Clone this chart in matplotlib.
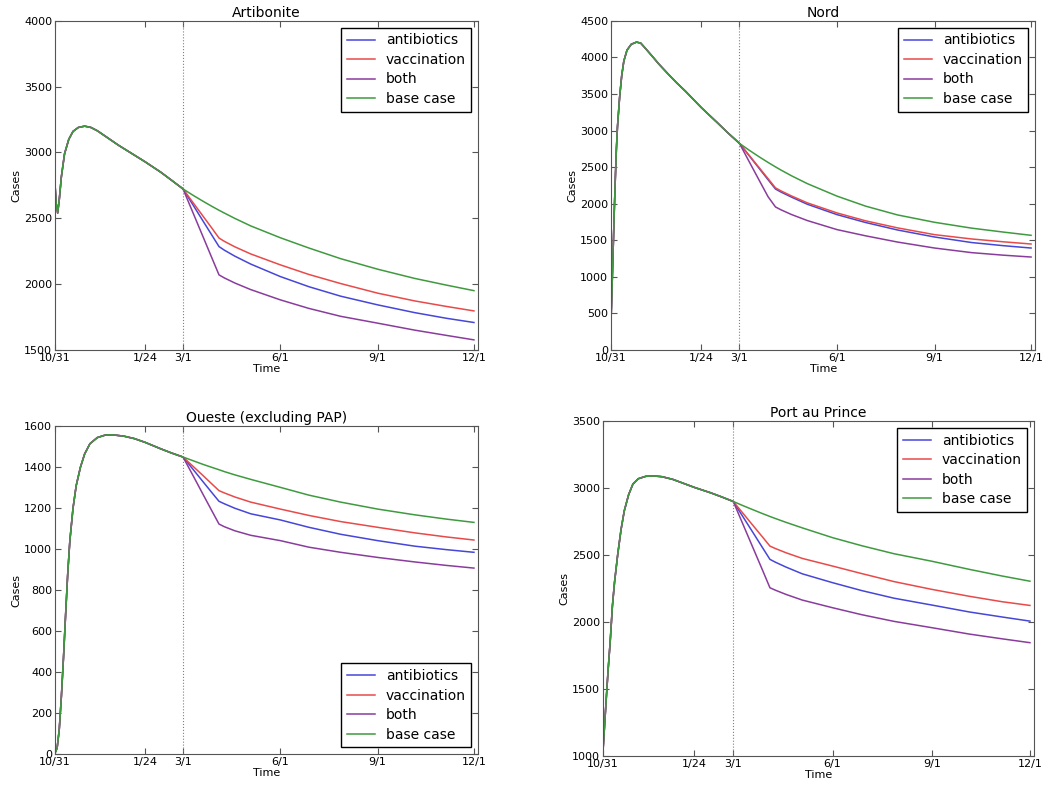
import matplotlib
matplotlib.use("Agg")
import matplotlib.pyplot as plt

# =====================================
# Data (days since 10/31, cases)
# =====================================

tick_days = [0, 85, 121, 213, 305, 396]
tick_labels = ["10/31", "1/24", "3/1", "6/1", "9/1", "12/1"]
intervention_day = 121

scenarios = ["antibiotics", "vaccination", "both", "base case"]

post_days = [121, 130, 140, 148, 155, 160, 170, 185, 213, 240, 270, 305, 340, 370, 396]

# Artibonite
artibonite_pre_days = [0, 1, 2.5, 4, 6, 9, 13, 17, 22, 28, 34, 40, 50, 60, 71, 85, 100, 110, 121]
artibonite_pre = [2760, 2620, 2540, 2640, 2815, 2990, 3100, 3160, 3190, 3200, 3190, 3165,
                  3110, 3055, 3000, 2930, 2850, 2790, 2723]
artibonite_antibiotics = [2723, 2607, 2478, 2375, 2285, 2258, 2212, 2152, 2057, 1980, 1908, 1842, 1783, 1740, 1708]
artibonite_vaccination = [2723, 2624, 2515, 2428, 2350, 2325, 2283, 2229, 2146, 2073, 2004, 1931, 1872, 1830, 1796]
artibonite_both = [2723, 2550, 2358, 2204, 2070, 2047, 2008, 1958, 1880, 1815, 1755, 1703, 1650, 1610, 1576]
artibonite_base = [2723, 2677, 2629, 2592, 2561, 2540, 2499, 2442, 2352, 2274, 2193, 2113, 2043, 1992, 1950]

# Nord
nord_pre_days = [0, 1, 2, 3, 4, 5, 6, 8, 10, 12, 15, 19, 24, 28, 32, 38, 45, 54, 62, 70, 85, 100, 110, 121]
nord_pre = [420, 900, 1400, 1900, 2350, 2750, 3050, 3450, 3750, 3950, 4100, 4180, 4210, 4195,
            4130, 4030, 3910, 3770, 3650, 3540, 3315, 3110, 2970, 2825]
nord_antibiotics = [2825, 2659, 2475, 2328, 2200, 2160, 2090, 1992, 1850, 1742, 1640, 1544, 1468, 1425, 1393]
nord_vaccination = [2825, 2664, 2485, 2342, 2216, 2176, 2106, 2011, 1873, 1765, 1669, 1576, 1517, 1478, 1448]
nord_both = [2825, 2580, 2310, 2095, 1955, 1917, 1852, 1769, 1645, 1560, 1475, 1393, 1330, 1295, 1270]
nord_base = [2825, 2733, 2637, 2564, 2503, 2461, 2382, 2274, 2103, 1966, 1846, 1745, 1665, 1611, 1567]

# Oueste (excluding PAP)
ouest_pre_days = [0, 2, 4, 6, 8, 10, 12, 14, 17, 20, 24, 28, 33, 40, 48, 55, 65, 75, 85, 100, 110, 121]
ouest_pre = [5, 30, 120, 280, 470, 680, 880, 1040, 1200, 1310, 1400, 1465, 1515, 1545, 1558,
             1558, 1552, 1540, 1522, 1490, 1470, 1450]
ouest_antibiotics = [1450, 1393, 1329, 1278, 1234, 1222, 1200, 1173, 1143, 1107, 1073, 1042, 1015, 998, 985]
ouest_vaccination = [1450, 1407, 1359, 1320, 1286, 1275, 1255, 1230, 1196, 1165, 1135, 1107, 1080, 1060, 1045]
ouest_both = [1450, 1364, 1267, 1190, 1123, 1110, 1090, 1068, 1042, 1010, 985, 960, 938, 921, 908]
ouest_base = [1450, 1433, 1414, 1400, 1388, 1379, 1363, 1341, 1302, 1264, 1230, 1196, 1168, 1147, 1131]

# Port au Prince
pap_pre_days = [0, 1, 2, 3, 5, 7, 9, 11, 14, 17, 20, 24, 28, 33, 40, 48, 55, 65, 75, 85, 100, 110, 121]
pap_pre = [1000, 1130, 1260, 1390, 1640, 1860, 2120, 2300, 2510, 2690, 2830, 2950, 3030, 3070,
           3088, 3090, 3085, 3065, 3035, 3005, 2965, 2935, 2900]
pap_antibiotics = [2900, 2786, 2659, 2557, 2468, 2447, 2410, 2360, 2294, 2235, 2178, 2127, 2075, 2038, 2007]
pap_vaccination = [2900, 2812, 2714, 2636, 2567, 2549, 2517, 2475, 2418, 2362, 2302, 2244, 2192, 2152, 2124]
pap_both = [2900, 2730, 2541, 2390, 2256, 2238, 2206, 2164, 2107, 2055, 2005, 1958, 1910, 1875, 1846]
pap_base = [2900, 2869, 2836, 2810, 2788, 2773, 2744, 2703, 2630, 2570, 2510, 2454, 2393, 2344, 2305]

regions = [
    ("Artibonite", artibonite_pre_days, artibonite_pre,
     [artibonite_antibiotics, artibonite_vaccination, artibonite_both, artibonite_base]),
    ("Nord", nord_pre_days, nord_pre,
     [nord_antibiotics, nord_vaccination, nord_both, nord_base]),
    ("Oueste (excluding PAP)", ouest_pre_days, ouest_pre,
     [ouest_antibiotics, ouest_vaccination, ouest_both, ouest_base]),
    ("Port au Prince", pap_pre_days, pap_pre,
     [pap_antibiotics, pap_vaccination, pap_both, pap_base]),
]

# =====================================
# Layout / style
# =====================================

colors = ["#4646d8", "#e84a4a", "#8a3c9c", "#3f9a3f"]
axes_rects = [
    [0.0524, 0.556, 0.403, 0.4175],
    [0.582, 0.556, 0.404, 0.4175],
    [0.0524, 0.043, 0.403, 0.416],
    [0.574, 0.0406, 0.411, 0.425],
]
y_ranges = [(1500, 4000, 500), (0, 4500, 500), (0, 1600, 200), (1000, 3500, 500)]
legend_locs = ["upper right", "upper right", "lower right", "upper right"]

fig = plt.figure(figsize=(10.5, 7.88), dpi=100, facecolor="white")

for (title, pre_days, pre_vals, series), rect, (y0, y1, step), loc in zip(
        regions, axes_rects, y_ranges, legend_locs):
    ax = fig.add_axes(rect)
    for name, vals, color in zip(scenarios, series, colors):
        days = pre_days + post_days[1:]
        cases = pre_vals + vals[1:]
        ax.plot(days, cases, color=color, linewidth=1.1, label=name)

    ax.axvline(intervention_day, color="gray", linestyle=":", linewidth=0.8)

    ax.set_xlim(0, 400)
    ax.set_ylim(y0, y1)
    ax.set_yticks(range(y0, y1 + 1, step))
    ax.set_xticks(tick_days)
    ax.set_xticklabels(tick_labels)
    ax.tick_params(direction="in", top=True, right=True, labelsize=8, pad=2,
                   length=4, color="#555555")
    for spine in ax.spines.values():
        spine.set_color("#555555")

    ax.set_title(title, fontsize=10, pad=3)
    ax.set_xlabel("Time", fontsize=8, labelpad=1)
    ax.set_ylabel("Cases", fontsize=8, labelpad=2)
    leg = ax.legend(loc=loc, fontsize=10, fancybox=False, framealpha=1,
                    handlelength=2, labelspacing=0.4, borderpad=0.4)
    leg.get_frame().set_edgecolor("black")

plt.savefig("out.png", dpi=100, facecolor="white")
plt.close()
